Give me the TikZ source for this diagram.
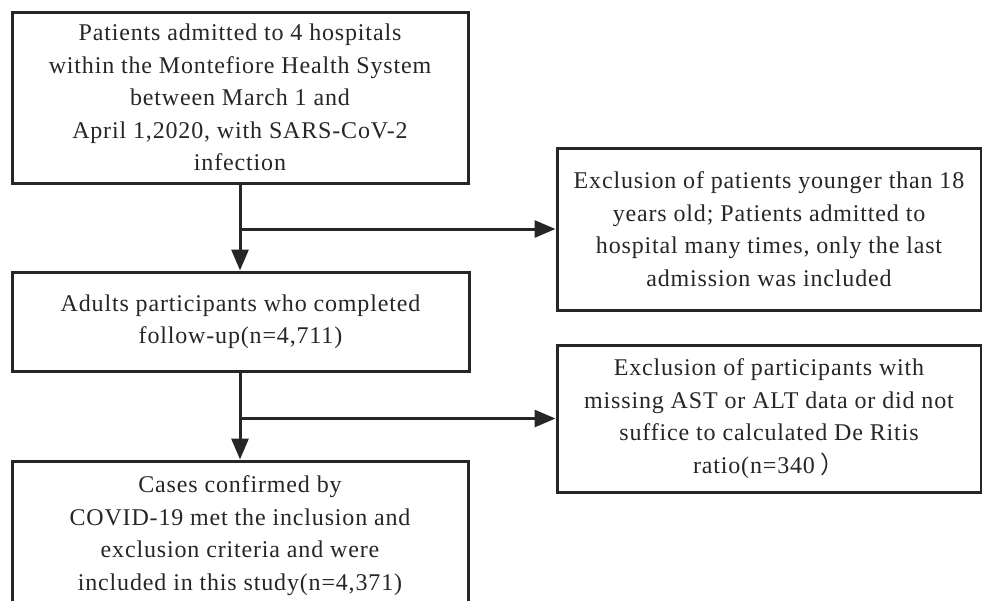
\documentclass[tikz,border=0pt]{standalone}
\usepackage{fontspec}
\setmainfont{Liberation Serif}[LetterSpace=3.5]
\newfontfamily\cjk{Noto Sans CJK SC}
\usetikzlibrary{arrows.meta}
\begin{document}
\begin{tikzpicture}[x=1pt,y=-1pt,
  box/.style={draw=black!85, line width=3pt, fill=white, align=center, inner sep=0pt,
    font=\fontsize{24}{32.5}\selectfont, text=black!85},
  conn/.style={line width=3pt, draw=black!85, -{Triangle[length=21pt,width=17pt]}}]
\useasboundingbox (0,0) rectangle (982,600);
\node[box, minimum width=456pt, minimum height=171pt] (b1) at (240,97.5)
  {Patients admitted to 4 hospitals\\within the Montefiore Health System\\between March 1 and\\April 1,2020, with SARS-CoV-2\\infection};
\node[box, minimum width=424pt, minimum height=162pt] (r1) at (769,229)
  {Exclusion of patients younger than 18\\years old; Patients admitted to\\hospital many times, only the last\\admission was included};
\node[box, minimum width=457pt, minimum height=99pt] (b2) at (240.5,321.5)
  {Adults participants who completed\\follow-up(n=4,711)};
\node[box, minimum width=424pt, minimum height=147pt] (r2) at (769,418.5)
  {Exclusion of participants with\\missing AST or ALT data or did not\\suffice to calculated De Ritis\\ratio(n=340\hspace{6pt}{\cjk ）}};
\node[box, minimum width=456pt, minimum height=149pt] (b3) at (240,535.5)
  {Cases confirmed by\\COVID-19 met the inclusion and\\exclusion criteria and were\\included in this study(n=4,371)};
\coordinate (j1) at (240,229);
\coordinate (j2) at (240,418.5);
\draw[conn] (b1.south -| j1) -- (b2.north -| j1);
\draw[conn] (j1) -- (r1.west);
\draw[conn] (b2.south -| j2) -- (b3.north -| j2);
\draw[conn] (j2) -- (r2.west);
\end{tikzpicture}
\end{document}
